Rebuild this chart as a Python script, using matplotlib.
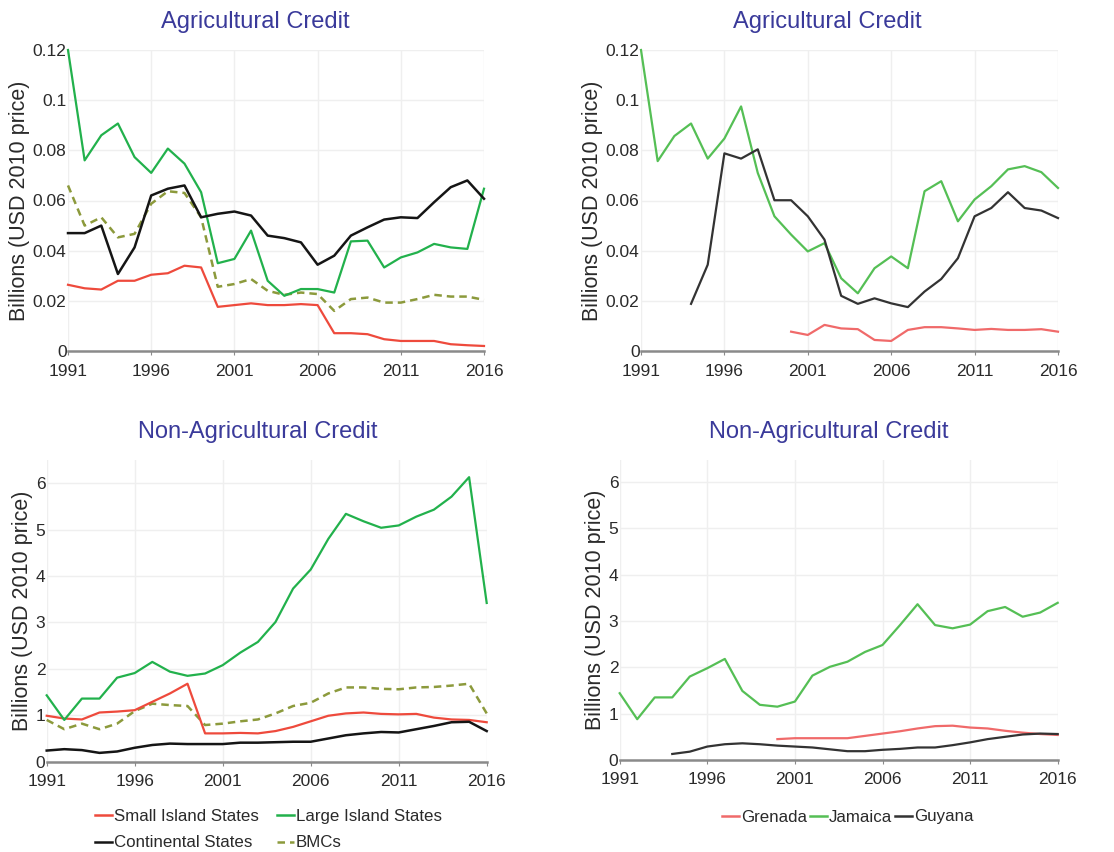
import matplotlib
matplotlib.use("Agg")
import matplotlib.pyplot as plt
from matplotlib.lines import Line2D
import numpy as np

plt.rcParams['font.family'] = ['Liberation Sans', 'DejaVu Sans']

years = list(range(1991, 2017))

# Panel 1: Agricultural credit by group (billions USD 2010)
ag_small = [0.0264, 0.025, 0.0245, 0.028, 0.028, 0.0304, 0.031, 0.034, 0.0333, 0.0176,
            0.0183, 0.019, 0.0183, 0.0183, 0.0187, 0.0183, 0.0071, 0.0071, 0.0067, 0.0047,
            0.004, 0.004, 0.004, 0.0027, 0.0023, 0.002]
ag_large = [0.12, 0.076, 0.086, 0.0907, 0.0773, 0.071, 0.0807, 0.0747, 0.0633, 0.035,
            0.0367, 0.048, 0.028, 0.022, 0.0247, 0.0247, 0.0233, 0.0437, 0.044, 0.0333,
            0.0373, 0.0393, 0.0427, 0.0413, 0.0407, 0.0647]
ag_cont = [0.047, 0.047, 0.050, 0.0307, 0.0413, 0.062, 0.0647, 0.066, 0.0533, 0.0547,
           0.0556, 0.054, 0.046, 0.045, 0.0433, 0.0344, 0.038, 0.046, 0.0493, 0.0524,
           0.0533, 0.053, 0.0593, 0.0653, 0.068, 0.0607]
ag_bmc = [0.066, 0.050, 0.0533, 0.0453, 0.0467, 0.0587, 0.0637, 0.063, 0.0533, 0.0256,
          0.0267, 0.0287, 0.024, 0.0224, 0.0233, 0.0227, 0.016, 0.0207, 0.0213, 0.0193,
          0.0193, 0.0207, 0.0224, 0.0217, 0.0217, 0.0204]

# Panel 2: Agricultural credit by country
ag_jamaica = [0.12, 0.0757, 0.0857, 0.0907, 0.0767, 0.0847, 0.0975, 0.071, 0.0537, 0.0464,
              0.0397, 0.043, 0.029, 0.023, 0.033, 0.0377, 0.033, 0.0637, 0.0677, 0.0517,
              0.0604, 0.0657, 0.0724, 0.0737, 0.0713, 0.065]
ag_guyana = [None, None, None, 0.0188, 0.0344, 0.0788, 0.0767, 0.0804, 0.0601, 0.0601,
             0.0537, 0.0444, 0.022, 0.0188, 0.021, 0.019, 0.0175, 0.0237, 0.0287, 0.037,
             0.0537, 0.057, 0.0633, 0.057, 0.056, 0.053]
ag_grenada = [None] * 9 + [0.0077, 0.0064, 0.0104, 0.009, 0.0087, 0.0044, 0.004, 0.0084,
                           0.0095, 0.0095, 0.009, 0.0084, 0.0088, 0.0084, 0.0084, 0.0087, 0.0077]

# Panel 3: Non-agricultural credit by group
na_small = [0.99, 0.93, 0.91, 1.06, 1.08, 1.11, 1.29, 1.47, 1.68, 0.61,
            0.61, 0.62, 0.61, 0.66, 0.75, 0.87, 0.99, 1.04, 1.06, 1.03,
            1.02, 1.03, 0.95, 0.91, 0.90, 0.85]
na_large = [1.43, 0.90, 1.36, 1.36, 1.81, 1.91, 2.15, 1.94, 1.85, 1.90,
            2.08, 2.35, 2.58, 3.01, 3.73, 4.14, 4.80, 5.34, 5.18, 5.04,
            5.09, 5.28, 5.43, 5.71, 6.13, 3.42]
na_cont = [0.24, 0.27, 0.25, 0.19, 0.22, 0.30, 0.36, 0.39, 0.38, 0.38,
           0.38, 0.41, 0.41, 0.42, 0.43, 0.43, 0.50, 0.57, 0.61, 0.64,
           0.63, 0.70, 0.77, 0.85, 0.86, 0.66]
na_bmc = [0.90, 0.70, 0.82, 0.70, 0.82, 1.09, 1.25, 1.22, 1.20, 0.79,
          0.82, 0.87, 0.91, 1.04, 1.20, 1.27, 1.47, 1.60, 1.60, 1.57,
          1.56, 1.60, 1.61, 1.64, 1.68, 1.04]

# Panel 4: Non-agricultural credit by country
na_jamaica = [1.44, 0.88, 1.35, 1.35, 1.80, 1.98, 2.18, 1.49, 1.19, 1.15,
              1.26, 1.82, 2.01, 2.12, 2.33, 2.48, 2.91, 3.36, 2.91, 2.84,
              2.92, 3.21, 3.30, 3.09, 3.18, 3.39]
na_grenada = [None] * 9 + [0.45, 0.47, 0.47, 0.47, 0.47, 0.52, 0.57, 0.62, 0.68, 0.73,
                           0.74, 0.70, 0.68, 0.63, 0.59, 0.56, 0.54]
na_guyana = [None, None, None, 0.13, 0.18, 0.29, 0.34, 0.36, 0.34, 0.31,
             0.29, 0.27, 0.23, 0.19, 0.19, 0.22, 0.24, 0.27, 0.27, 0.32,
             0.38, 0.45, 0.50, 0.55, 0.57, 0.56]

group_labels = ["Small Island States", "Large Island States", "Continental States", "BMCs"]
country_labels = ["Grenada", "Jamaica", "Guyana"]
ag_ticks = [0, 0.02, 0.04, 0.06, 0.08, 0.1, 0.12]
ag_ticklabels = ["0", "0.02", "0.04", "0.06", "0.08", "0.1", "0.12"]
na_ticks = [0, 1, 2, 3, 4, 5, 6]
x_ticks = [1991, 1996, 2001, 2006, 2011, 2016]

RED = "#ee4a3c"
GREEN = "#22b14c"
BLACK = "#151515"
OLIVE = "#8c9a3c"
PINK = "#f06a6a"
LGREEN = "#55bf55"
DGREY = "#333333"
TITLE_C = "#3a3a9a"
TXT = "#2a2a2a"


def arr(v):
    return np.array([np.nan if a is None else a for a in v], dtype=float)


fig = plt.figure(figsize=(11.14, 8.52), dpi=100)
W, H = 1114, 852


def make_ax(x0, x1, y0px, ytop, ylim_top):
    ax = fig.add_axes([x0 / W, 1 - y0px / H, (x1 - x0) / W, (y0px - ytop) / H])
    ax.set_xlim(1991, 2016)
    ax.set_ylim(0, ylim_top)
    ax.set_xticks(x_ticks)
    ax.grid(True, color="#efefef", linewidth=1.0)
    ax.set_axisbelow(True)
    for s in ["top", "right", "left"]:
        ax.spines[s].set_visible(False)
    ax.spines["bottom"].set_color("#8a8a8a")
    ax.spines["bottom"].set_linewidth(1.8)
    ax.tick_params(axis="x", length=3, color="#8a8a8a", labelsize=12.5, labelcolor=TXT, pad=6)
    ax.tick_params(axis="y", length=0, labelsize=12.5, labelcolor=TXT, pad=1)
    ax.set_ylabel("Billions (USD 2010 price)", fontsize=15.5, color=TXT, labelpad=2)
    return ax


def plot(ax, y, color, lw=1.6, ls="-"):
    ax.plot(years, arr(y), color=color, lw=lw, ls=ls, clip_on=False)


# Panel 1
ax1 = make_ax(68, 484, 351, 50, 0.12)
ax1.set_yticks(ag_ticks)
ax1.set_yticklabels(ag_ticklabels)
plot(ax1, ag_bmc, OLIVE, lw=1.8, ls=(0, (3, 2)))
plot(ax1, ag_small, RED)
plot(ax1, ag_large, GREEN)
plot(ax1, ag_cont, BLACK, lw=1.8)
fig.text(255 / W, 1 - 22 / H, "Agricultural Credit", ha="center", va="center",
         fontsize=17, color=TITLE_C)

# Panel 2
ax2 = make_ax(641, 1058, 351, 50, 0.12)
ax2.set_yticks(ag_ticks)
ax2.set_yticklabels(ag_ticklabels)
plot(ax2, ag_grenada, PINK)
plot(ax2, ag_jamaica, LGREEN)
plot(ax2, ag_guyana, DGREY)
fig.text(827 / W, 1 - 22 / H, "Agricultural Credit", ha="center", va="center",
         fontsize=17, color=TITLE_C)

# Panel 3
ax3 = make_ax(46.7, 486.7, 761.7, 460, 6.5)
ax3.set_yticks(na_ticks)
plot(ax3, na_bmc, OLIVE, lw=1.8, ls=(0, (3, 2)))
plot(ax3, na_small, RED)
plot(ax3, na_large, GREEN)
plot(ax3, na_cont, BLACK, lw=1.8)
fig.text(258 / W, 1 - 432 / H, "Non-Agricultural Credit", ha="center", va="center",
         fontsize=17, color=TITLE_C)

# Panel 4
ax4 = make_ax(619.7, 1057.7, 760, 460, 6.47)
ax4.set_yticks(na_ticks)
plot(ax4, na_grenada, PINK)
plot(ax4, na_jamaica, LGREEN)
plot(ax4, na_guyana, DGREY)
fig.text(829 / W, 1 - 432 / H, "Non-Agricultural Credit", ha="center", va="center",
         fontsize=17, color=TITLE_C)

# Legends (ordered so rows read: Small | Large, Continental | BMCs)
h_small = Line2D([], [], color=RED, lw=1.8)
h_large = Line2D([], [], color=GREEN, lw=1.8)
h_cont = Line2D([], [], color=BLACK, lw=1.8)
h_bmc = Line2D([], [], color=OLIVE, lw=1.8, ls=(0, (3, 2)))
leg1 = fig.legend([h_small, h_cont, h_large, h_bmc],
                  [group_labels[0], group_labels[2], group_labels[1], group_labels[3]],
                  ncol=2, loc="center left",
                  bbox_to_anchor=(95 / W, 1 - 829.5 / H), frameon=False,
                  fontsize=12.2, handlelength=1.0, handletextpad=0.1,
                  columnspacing=1.1, labelspacing=0.7, borderpad=0, borderaxespad=0)
for t in leg1.get_texts():
    t.set_color(TXT)

h_c = [Line2D([], [], color=PINK, lw=1.8),
       Line2D([], [], color=LGREEN, lw=1.8),
       Line2D([], [], color=DGREY, lw=1.8)]
leg2 = fig.legend(h_c, country_labels, ncol=3, loc="center left",
                  bbox_to_anchor=(722 / W, 1 - 817 / H), frameon=False,
                  fontsize=12.2, handlelength=1.0, handletextpad=0.1,
                  columnspacing=0.2, borderpad=0, borderaxespad=0)
for t in leg2.get_texts():
    t.set_color(TXT)

fig.savefig("out.png", dpi=100, facecolor="white")
